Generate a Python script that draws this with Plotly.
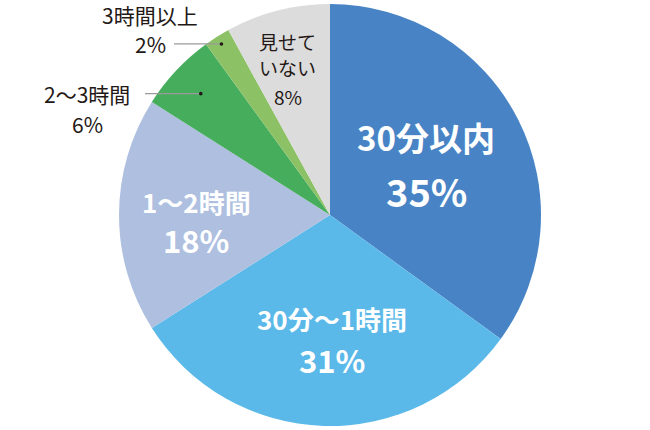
import math
import plotly.graph_objects as go

# ---- data ----
categories = ["30分以内", "30分～1時間", "1～2時間", "2～3時間", "3時間以上", "見せていない"]
values = [35, 31, 18, 6, 2, 8]
colors = ["#4884c5", "#5bb9e9", "#aebfe0", "#46ad5d", "#8cc265", "#dcdcdc"]

# label lines (text) per slice
label_lines = [
    ["30分以内", "35%"],
    ["30分～1時間", "31%"],
    ["1～2時間", "18%"],
    ["2～3時間", "6%"],
    ["3時間以上", "2%"],
    ["見せて", "いない", "8%"],
]

# ---- layout constants (pixels) ----
W, H = 650, 430
CX, CY, R = 330, 215, 211

fig = go.Figure()
fig.add_trace(go.Pie(
    labels=categories,
    values=values,
    marker=dict(colors=colors, line=dict(width=0)),
    sort=False,
    direction="clockwise",
    rotation=0,
    textinfo="none",
    hoverinfo="label+percent",
    showlegend=False,
    domain=dict(x=[(CX - R) / W, (CX + R) / W], y=[1 - (CY + R) / H, 1 - (CY - R) / H]),
))

def px2paper(x, y):
    return x / W, 1 - y / H

# label placement (pixel positions per line) and fonts
placements = [
    dict(pos=[(426, 137), (426, 190)], sizes=[33, 38], color="white", bold=True),
    dict(pos=[(332, 318), (332, 359)], sizes=[26, 31], color="white", bold=True),
    dict(pos=[(196, 201), (196, 239)], sizes=[26, 31], color="white", bold=True),
    dict(pos=[(87, 94), (87, 124)], sizes=[21, 21], color="#231815", bold=False),
    dict(pos=[(150, 15), (150, 44)], sizes=[21, 21], color="#231815", bold=False),
    dict(pos=[(287, 41), (287, 68), (288, 96)], sizes=[19, 19, 19], color="#231815", bold=False),
]

annotations = []
for lines, pl in zip(label_lines, placements):
    for txt, (x, y), s in zip(lines, pl["pos"], pl["sizes"]):
        xp, yp = px2paper(x, y)
        annotations.append(dict(
            x=xp, y=yp, xref="paper", yref="paper", text=txt, showarrow=False,
            xanchor="center", yanchor="middle",
            font=dict(family="Noto Sans CJK JP", size=s, color=pl["color"],
                      weight="bold" if pl["bold"] else "normal"),
        ))

# leader lines for the small slices (dot positioned from data angles)
total = sum(values)
cum = []
acc = 0
for v in values:
    cum.append((acc + v / 2) / total)
    acc += v

leaders = {3: dict(r=0.84, x0=145), 4: dict(r=0.96, x0=174)}
shapes = []
for i, ld in leaders.items():
    ang = 2 * math.pi * cum[i]
    dx = CX + ld["r"] * R * math.sin(ang)
    dy = CY - ld["r"] * R * math.cos(ang)
    x0p, y0p = px2paper(ld["x0"], dy)
    x1p, y1p = px2paper(dx, dy)
    shapes.append(dict(type="line", xref="paper", yref="paper", x0=x0p, y0=y0p, x1=x1p, y1=y1p,
                       line=dict(color="#9a9a9a", width=1.2)))
    rr = 1.8
    shapes.append(dict(type="circle", xref="paper", yref="paper",
                       x0=(dx - rr) / W, x1=(dx + rr) / W, y0=1 - (dy + rr) / H, y1=1 - (dy - rr) / H,
                       fillcolor="#231815", line=dict(width=0)))

fig.update_layout(
    width=W, height=H,
    margin=dict(l=0, r=0, t=0, b=0),
    paper_bgcolor="white", plot_bgcolor="white",
    annotations=annotations, shapes=shapes,
)
fig.write_html("out.html", config={"displayModeBar": False},
               post_script="document.body.style.margin='0';document.body.style.overflow='hidden';")
